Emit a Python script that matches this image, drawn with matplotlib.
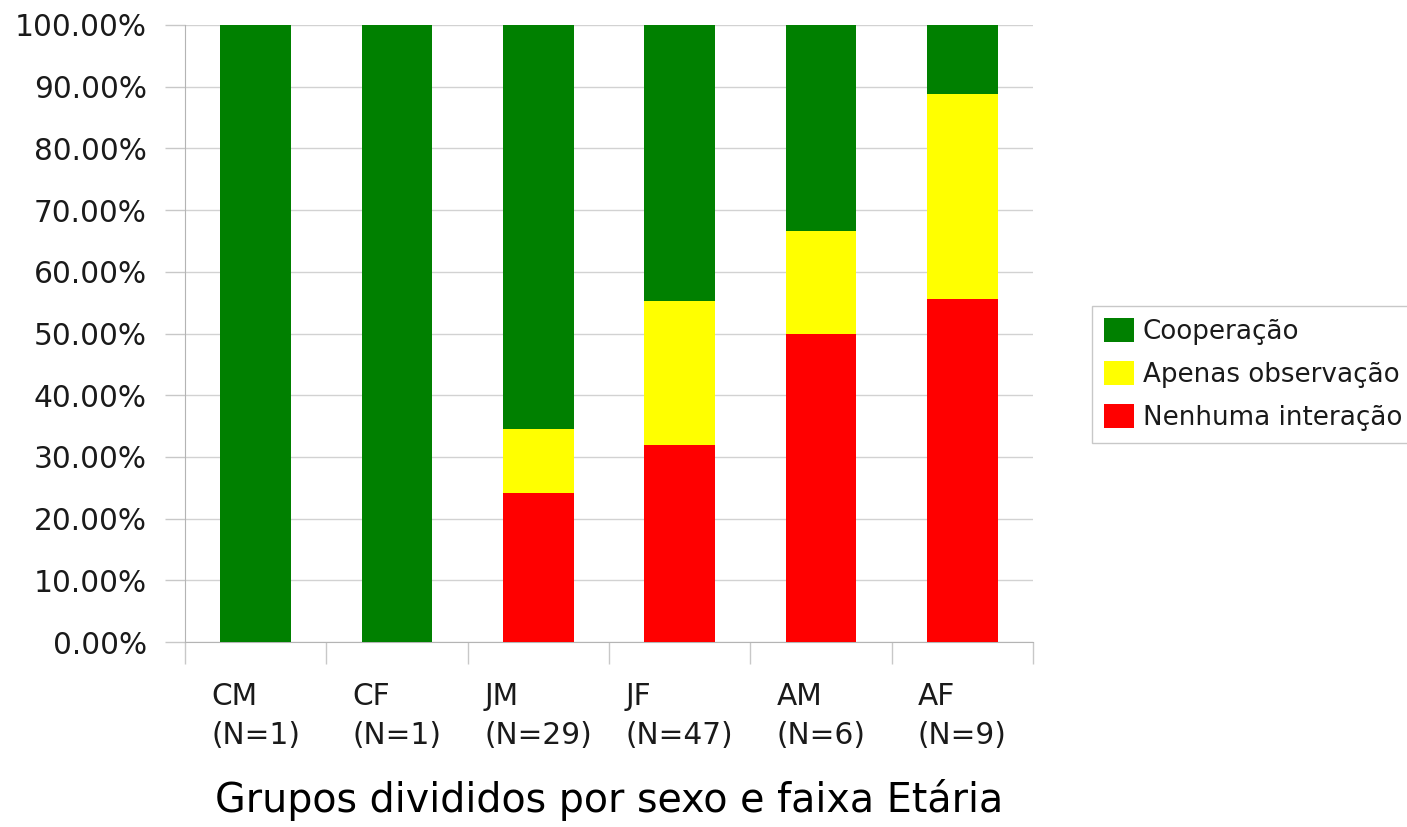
import matplotlib; matplotlib.use("Agg")
import matplotlib.pyplot as plt, numpy as np
from matplotlib.ticker import FuncFormatter

plt.rcParams.update({"font.family": ["DejaVu Sans"], "text.color": "#1a1a1a",
                     "xtick.color": "#1a1a1a", "ytick.color": "#1a1a1a"})

groups = ["CM", "CF", "JM", "JF", "AM", "AF"]
n_sizes = [1, 1, 29, 47, 6, 9]
# counts per group (bottom to top): nenhuma, apenas observacao, cooperacao
nenhuma = [0, 0, 7, 15, 3, 5]
observ = [0, 0, 3, 11, 1, 3]
coop = [1, 1, 19, 21, 2, 1]
series = ["Nenhuma interação", "Apenas observação", "Cooperação"]
colors = ["#ff0000", "#ffff00", "#008000"]

N = np.array(n_sizes, float)
pct = [np.array(s) / N * 100 for s in (nenhuma, observ, coop)]

fig = plt.figure(figsize=(14.07, 8.27), dpi=100)
ax = fig.add_axes([185/1407, 1-642/827, (1033-185)/1407, (642-25)/827])
x = np.arange(len(groups))
bottom = np.zeros(len(groups))
handles = []
for vals, c, lab in zip(pct, colors, series):
    h = ax.bar(x, vals, 0.5, bottom=bottom, color=c, label=lab, zorder=3)
    handles.append(h)
    bottom += vals

ax.set_xlim(-0.5, len(groups)-0.5)
ax.set_ylim(0, 100)
ax.set_yticks(np.arange(0, 101, 10))
ax.yaxis.set_major_formatter(FuncFormatter(lambda v, p: f"{v:.2f}%"))
ax.tick_params(axis="y", length=14.4, width=1, color="#c8c8c8", labelsize=21.3, pad=13)
ax.grid(axis="y", color="#d2d2d2", lw=1, zorder=0)

ax.set_xticks(x)
ax.set_xticklabels([f"{g}\n(N={n})" for g, n in zip(groups, n_sizes)],
                   multialignment="left", fontsize=21.3, linespacing=1.42)
ax.tick_params(axis="x", length=0, pad=29)
ax.set_xticks(np.arange(-0.5, len(groups)), minor=True)
ax.tick_params(axis="x", which="minor", length=16, width=1, color="#c8c8c8")

for s in ("top", "right"):
    ax.spines[s].set_visible(False)
for s in ("left", "bottom"):
    ax.spines[s].set_color("#b4b4b4")

ax.set_xlabel("Grupos divididos por sexo e faixa Etária", fontsize=28.5, labelpad=21)

fig.legend(handles[::-1], series[::-1], loc="upper left",
           bbox_to_anchor=(1092/1407, 1-306/827), fontsize=18.8,
           handlelength=1.15, handleheight=1.05, handletextpad=0.35,
           borderpad=0.45, labelspacing=0.62, borderaxespad=0, fancybox=False,
           edgecolor="#c8c8c8", framealpha=1)

fig.savefig("out.png", dpi=100)
